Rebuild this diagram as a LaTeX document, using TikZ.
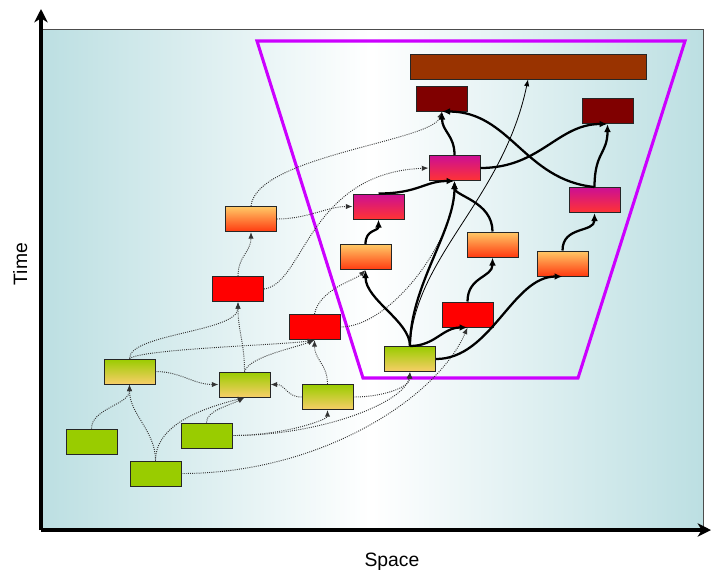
\documentclass[tikz,border=0pt]{standalone}
\usepackage{fontspec}
\setmainfont{Liberation Sans}
\usetikzlibrary{arrows.meta}

\definecolor{panelteal}{HTML}{BCDFE2}
\definecolor{windowmag}{HTML}{CC00FF}
\definecolor{leafgreen}{HTML}{99CC00}
\definecolor{paleamber}{HTML}{F8CE68}
\definecolor{amber}{HTML}{FFC966}
\definecolor{flame}{HTML}{FF3A10}
\definecolor{berry}{HTML}{CC0F94}
\definecolor{coral}{HTML}{FF3333}
\definecolor{maroonc}{HTML}{800000}
\definecolor{rust}{HTML}{993300}

\begin{document}
\begin{tikzpicture}[x=0.75pt,y=-0.75pt,
  task/.style={draw=black!85, line width=0.75pt, minimum width=38.25pt,
    minimum height=18.75pt, inner sep=0pt},
  green task/.style={task, fill=leafgreen},
  ripe task/.style={task, top color=leafgreen, bottom color=paleamber},
  red task/.style={task, fill=red},
  amber task/.style={task, top color=amber, bottom color=flame},
  berry task/.style={task, top color=berry, bottom color=coral},
  dark task/.style={task, fill=maroonc},
  flow/.style={line width=1.7pt, -{Latex[length=6pt,width=5pt]}},
  link/.style={line width=0.6pt, -{Latex[length=5pt,width=4pt]}},
  dep/.style={line width=0.7pt, draw=black!80, dash pattern=on 0.7pt off 0.9pt,
    -{Latex[length=5pt,width=4pt]}},
  axis/.style={line width=2.4pt, -{Stealth[length=10pt,width=10pt,inset=3pt]}},
  label/.style={font=\fontsize{14.5}{17}\selectfont, inner sep=0pt}
]
\useasboundingbox (0,0) rectangle (712,569);

% background panel
\shade[left color=panelteal, right color=panelteal, middle color=white]
  (41,29) rectangle (703,530);
\draw[black!70, line width=0.75pt] (41,29) -- (703,29) -- (703,530);

% axes
\coordinate (origin) at (41,530);
\coordinate (timetip) at (41,9);
\coordinate (spacetip) at (711,530);
\draw[axis] (origin) -- (timetip);
\draw[axis] (origin) -- (spacetip);
\node[label, rotate=90, anchor=base] (timelabel) at (27,264) {Time};
\node[label, anchor=base] (spacelabel) at (392,566) {Space};

% current window
\draw[windowmag, line width=2.3pt, line join=miter]
  (257,41) -- (685,41) -- (578,378) -- (363,378) -- cycle;

% tasks
\node[green task] (g1) at (91.5,441.5) {};
\node[green task] (g2) at (155.5,473.5) {};
\node[green task] (g3) at (206.5,435.5) {};
\node[ripe task] (y1) at (129.5,371.5) {};
\node[ripe task] (y2) at (244.5,384.5) {};
\node[ripe task] (y3) at (327.5,397) {};
\node[ripe task] (y4) at (410,359) {};
\node[red task] (r1) at (238,289) {};
\node[red task] (r2) at (314.5,327) {};
\node[red task] (r3) at (467.5,314.5) {};
\node[amber task] (o1) at (251,219) {};
\node[amber task] (o2) at (365.5,257) {};
\node[amber task] (o3) at (492.5,244.5) {};
\node[amber task] (o4) at (562.5,263.5) {};
\node[berry task] (m1) at (378.5,206.5) {};
\node[berry task] (m2) at (454.5,168) {};
\node[berry task] (m3) at (594.5,200) {};
\node[dark task] (d1) at (442,98.5) {};
\node[dark task] (d2) at (607.5,111) {};
\node[task, fill=rust, minimum width=177pt] (bar) at (528,66.5) {};

% past dependencies
\draw[dep] (g1.north) .. controls +(0,-20) and +(0,20) .. (y1.south);
\draw[dep] (g2.north) .. controls +(0,-30) and +(0,30) .. (y1.south);
\draw[dep] (g2.north) .. controls +(0,-40) and +(-30,8) .. (y2.south);
\draw[dep] (g3.north) .. controls +(0,-12) and +(-15,8) .. (y2.south);
\draw[dep] (y1.east) .. controls +(25,0) and +(-25,0) .. (y2.west);
\draw[dep] (y1.north) .. controls +(0,-25) and +(0,30) .. (r1.south);
\draw[dep] (y1.north) .. controls +(15,-10) and +(-30,5) .. (r2.south);
\draw[dep] (y2.north) .. controls +(0,-30) and +(0,30) .. (r1.south);
\draw[dep] (y2.north) .. controls +(5,-15) and +(-20,8) .. (r2.south);
\draw[dep] (y3.west) .. controls +(-15,0) and +(15,0) .. (y2.east);
\draw[dep] (y3.north) .. controls +(0,-20) and +(0,20) .. (r2.south);
\draw[dep] (g3.east) .. controls +(50,0) and +(0,10) .. (y3.south);
\draw[dep] (g3.east) .. controls +(90,0) and +(-5,30) .. (y4.south);
\draw[dep] (g2.east) .. controls +(140,0) and +(-30,70) .. (r3.south);
\draw[dep] (y3.east) .. controls +(30,0) and +(0,15) .. (y4.south);
\draw[dep] (r1.north) .. controls +(0,-20) and +(0,20) .. (o1.south);
\draw[dep] (o1.east) .. controls +(30,0) and +(-25,0) .. (m1.west);
\draw[dep] (r1.east) .. controls +(40,-5) and +(-120,5) .. (m2.west);
\draw[dep] (o1.north) .. controls +(5,-50) and +(-10,30) .. (d1.south);
\draw[dep] (r2.north) .. controls +(5,-25) and +(-10,10) .. (o2.south);
\draw[dep] (r2.east) .. controls +(50,0) and +(0,60) .. (m2.south);

% dependencies inside the window
\draw[flow] (y4.north) .. controls +(0,-25) and +(0,30) .. (o2.south);
\draw[flow] (y4.north) .. controls +(0,-60) and +(0,50) .. (m2.south);
\draw[flow] (y4.north) .. controls +(25,0) and +(-25,0) .. (r3.south);
\draw[flow] (y4.east) .. controls +(55,0) and +(-50,0) .. (o4.south);
\draw[flow] (r3.north) .. controls +(0,-25) and +(0,20) .. (o3.south);
\draw[flow] (o3.north) .. controls +(0,-30) and +(0,15) .. (m2.south);
\draw[flow] (o2.north) .. controls +(0,-15) and +(0,12) .. (m1.south);
\draw[flow] (m1.north) .. controls +(40,0) and +(-30,0) .. (m2.south);
\draw[flow] (m2.north) .. controls +(0,-20) and +(0,20) .. (d1.south);
\draw[flow] (m2.east) .. controls +(60,0) and +(-50,0) .. (d2.south);
\draw[flow] (m3.north) .. controls +(0,-35) and +(0,30) .. (d2.south);
\draw[flow] (m3.north) .. controls +(-70,-7) and +(68,0) .. (d1.south);
\draw[flow] (o4.north) .. controls +(0,-25) and +(0,20) .. (m3.south);
\draw[link] (y4.north) .. controls +(5,-90) and +(-25,120) .. (bar.south);
\end{tikzpicture}
\end{document}
